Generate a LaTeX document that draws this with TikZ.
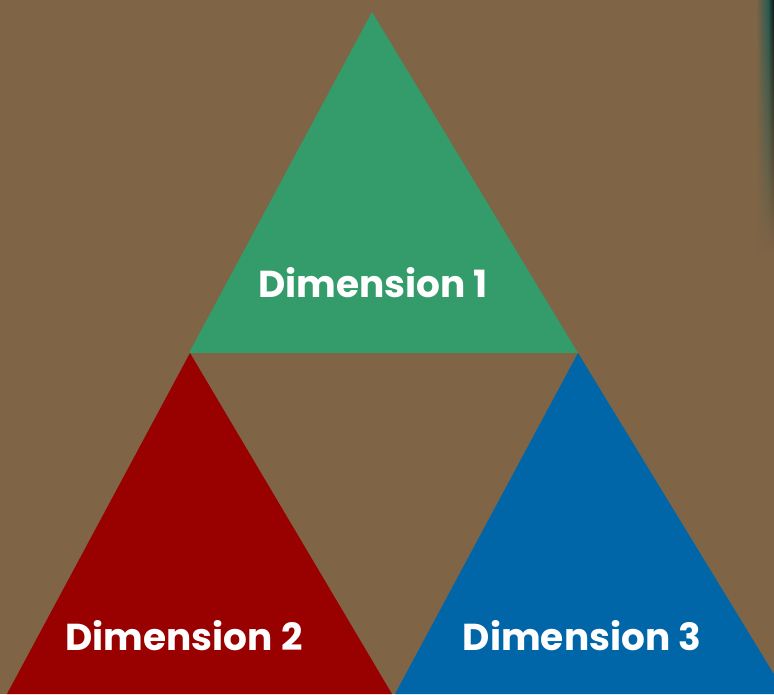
\documentclass[tikz,border=0pt]{standalone}
\usepackage{fontspec}
\setmainfont{Poppins}
\usetikzlibrary{fadings}
\definecolor{bgbrown}{RGB}{128,100,70}
\definecolor{dimgreen}{RGB}{52,155,106}
\definecolor{dimred}{RGB}{153,0,0}
\definecolor{dimblue}{RGB}{0,102,168}
\definecolor{edgeteal}{RGB}{40,90,80}
\definecolor{edgedark}{RGB}{10,20,18}
\tikzset{
  dimlabel/.style={text=white, font=\bfseries\fontsize{37.5}{42}\selectfont, anchor=base, inner sep=0pt},
  tri/.style={draw=none}
}
\begin{document}
\begin{tikzpicture}[x=1pt,y=1pt]
\useasboundingbox (0,0) rectangle (774,694);
\fill[bgbrown] (0,0) rectangle (774,694);
% dark edge at the top right
\shade[left color=bgbrown, right color=edgeteal, path fading=south] (756,440) rectangle (768,694);
\shade[left color=edgeteal, right color=edgedark, path fading=south] (768,440) rectangle (774,694);
% triangles
\begin{scope}
\clip (0,0) rectangle (774,694);
\fill[dimgreen, tri] (189,341) -- (372,682) -- (578,341) -- cycle;
\fill[dimred, tri] (7,0) -- (190,341) -- (392,0) -- cycle;
\fill[dimblue, tri] (395,0) -- (578,341) -- (786,0) -- cycle;
\end{scope}
\node[dimlabel] (d1) at (373,396) {Dimension 1};
\node[dimlabel] (d2) at (184,44) {Dimension 2};
\node[dimlabel] (d3) at (582,44) {Dimension 3};
\end{tikzpicture}
\end{document}
